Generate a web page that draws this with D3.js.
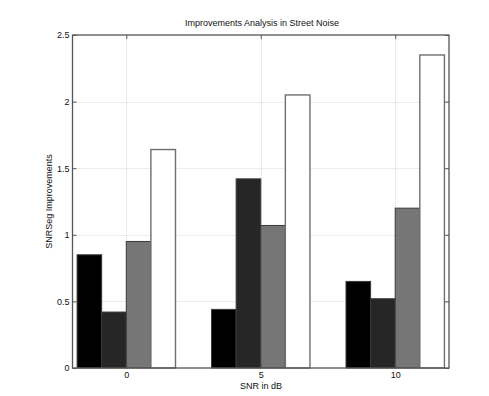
<!DOCTYPE html>
<html>
<head>
<meta charset="utf-8">
<script src="https://cdn.jsdelivr.net/npm/d3@7"></script>
<style>
  body { margin: 0; background: #fff; }
  svg { display: block; font-family: "Liberation Sans", Arial, sans-serif; }
</style>
</head>
<body>
<svg id="chart" width="489" height="396"></svg>
<script>
// SNR levels (dB) on the x axis
const categories = ["0", "5", "10"];
// SNRSeg improvement per method, one array per series
const series1 = [0.85, 0.44, 0.65];
const series2 = [0.42, 1.42, 0.52];
const series3 = [0.95, 1.07, 1.20];
const series4 = [1.64, 2.05, 2.35];
const seriesColors = ["#000000", "#262626", "#767676", "#ffffff"];
const yTicks = [0, 0.5, 1, 1.5, 2, 2.5];

const allSeries = [series1, series2, series3, series4];

const svg = d3.select("#chart");
const plotLeft = 72.5, plotRight = 449, plotTop = 35, plotBottom = 368;

// categories sit at 1..3 with margins like a MATLAB bar plot
const x = d3.scaleLinear().domain([0.6, 3.4]).range([plotLeft, plotRight]);
const y = d3.scaleLinear().domain([0, 2.5]).range([plotBottom, plotTop]);
const barW = 0.183;

// dotted grid
const grid = svg.append("g").attr("stroke", "#d8d8d8").attr("stroke-width", 1)
  .attr("stroke-dasharray", "1,1");
yTicks.slice(1, -1).forEach(t => {
  grid.append("line").attr("x1", plotLeft).attr("x2", plotRight)
    .attr("y1", Math.round(y(t)) + 0.5).attr("y2", Math.round(y(t)) + 0.5);
});
categories.forEach((c, i) => {
  grid.append("line").attr("x1", Math.round(x(i + 1)) + 0.5).attr("x2", Math.round(x(i + 1)) + 0.5)
    .attr("y1", plotTop).attr("y2", plotBottom);
});

// grouped bars
const bars = svg.append("g");
allSeries.forEach((vals, j) => {
  bars.selectAll(null).data(vals).enter().append("rect")
    .attr("x", (d, i) => x(i + 1 + (j - 2) * barW))
    .attr("width", x(barW) - x(0))
    .attr("y", d => y(d))
    .attr("height", d => y(0) - y(d))
    .attr("fill", seriesColors[j])
    .attr("stroke", j === 3 ? "#6e6e6e" : "#3a3a3a")
    .attr("stroke-width", j === 3 ? 1.4 : 1);
});

// axes box
const axisColor = "#555";
svg.append("rect").attr("x", plotLeft).attr("y", plotTop)
  .attr("width", plotRight - plotLeft).attr("height", plotBottom - plotTop)
  .attr("fill", "none").attr("stroke", axisColor).attr("stroke-width", 1.3);

// y axis (ticks inward) plus mirrored right ticks
const yAxis = d3.axisLeft(y).tickValues(yTicks).tickSize(-4).tickPadding(3)
  .tickFormat(d => d3.format("")(d));
const gy = svg.append("g").attr("transform", `translate(${plotLeft},0)`).call(yAxis);
const gyr = svg.append("g").attr("transform", `translate(${plotRight},0)`)
  .call(d3.axisRight(y).tickValues(yTicks).tickSize(-4).tickFormat(""));

// x axis
const xAxis = d3.axisBottom(x).tickValues([1, 2, 3]).tickSize(-4).tickPadding(4)
  .tickFormat((d, i) => categories[i]);
const gx = svg.append("g").attr("transform", `translate(0,${plotBottom})`).call(xAxis);
const gxt = svg.append("g").attr("transform", `translate(0,${plotTop})`)
  .call(d3.axisTop(x).tickValues([1, 2, 3]).tickSize(-4).tickFormat(""));

[gy, gyr, gx, gxt].forEach(g => {
  g.select(".domain").remove();
  g.selectAll(".tick line").attr("stroke", axisColor);
  g.selectAll("text").attr("fill", "#111").attr("font-size", 9)
    .attr("font-family", "Liberation Sans, Arial, sans-serif");
});

// title and axis labels
svg.append("text").attr("x", 262).attr("y", 26).attr("text-anchor", "middle")
  .attr("font-size", 9).attr("fill", "#111")
  .text("Improvements Analysis in Street Noise");
svg.append("text").attr("x", 261).attr("y", 389).attr("text-anchor", "middle")
  .attr("font-size", 9).attr("fill", "#111").text("SNR in dB");
svg.append("text").attr("transform", `translate(52,${(plotTop + plotBottom) / 2}) rotate(-90)`)
  .attr("text-anchor", "middle").attr("font-size", 9).attr("fill", "#111")
  .text("SNRSeg Improvements");
</script>
</body>
</html>
